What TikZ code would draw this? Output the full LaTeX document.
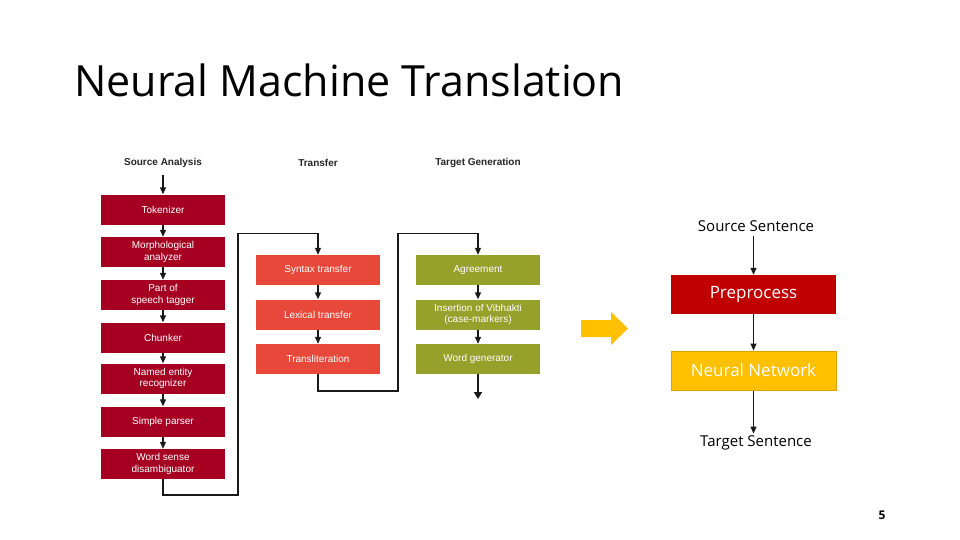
\documentclass[tikz,border=0pt]{standalone}
\usepackage{fontspec}
\setmainfont{Open Sans}
\newfontfamily\diafont{Liberation Sans}
\usetikzlibrary{arrows.meta}
\definecolor{srcred}{HTML}{A50021}
\definecolor{trred}{HTML}{E8483A}
\definecolor{olive}{HTML}{95A12B}
\definecolor{prered}{HTML}{C00000}
\definecolor{nnyellow}{HTML}{FFC000}
\definecolor{nnborder}{HTML}{E0A000}
\begin{document}
\begin{tikzpicture}[x=1pt,y=-1pt,
  arr/.style={draw=black!90, line width=1.2pt, -{Triangle[width=6pt,length=7pt]}},
  box/.style={minimum width=124pt, minimum height=30pt, inner sep=1pt, text=white, align=center, font=\diafont\fontsize{10}{11.5}\selectfont},
  srcbox/.style={box, fill=srcred},
  trbox/.style={box, fill=trred},
  tgbox/.style={box, fill=olive},
  head/.style={font=\diafont\bfseries\fontsize{10}{11}\selectfont, text=black!85},
  sent/.style={font=\fontsize{15}{17}\selectfont, inner sep=1pt},
  bigbox/.style={minimum width=165pt, minimum height=39pt, inner sep=1pt, text=white, font=\fontsize{17}{19}\selectfont}
]
\useasboundingbox (0,0) rectangle (960,540);
\fill[white] (0,0) rectangle (960,540);

% title
\node[anchor=base west, inner sep=0pt, font=\fontsize{43}{48}\selectfont] (title) at (74,97) {Neural Machine Translation};

% headings
\node[head] (sa) at (163,163) {Source Analysis};
\node[head] (tf) at (318,163) {Transfer};
\node[head] (tg) at (478,163) {Target Generation};

% source analysis column
\node[srcbox] (tok) at (163,209.5) {Tokenizer};
\node[srcbox] (mor) at (163,252) {Morphological\\analyzer};
\node[srcbox] (pos) at (163,295) {Part of\\speech tagger};
\node[srcbox] (chu) at (163,337.5) {Chunker};
\node[srcbox] (ner) at (163,378.5) {Named entity\\recognizer};
\node[srcbox] (sp) at (163,421.5) {Simple parser};
\node[srcbox] (wsd) at (163,464) {Word sense\\disambiguator};

% transfer column
\node[trbox] (syn) at (318,270) {Syntax transfer};
\node[trbox] (lex) at (318,314.5) {Lexical transfer};
\node[trbox] (trl) at (318,359) {Transliteration};

% target generation column
\node[tgbox] (agr) at (478,270) {Agreement};
\node[tgbox] (ins) at (478,314.5) {Insertion of Vibhakti\\(case-markers)};
\node[tgbox] (wg) at (478,359) {Word generator};

% connectors
\draw[arr] ([yshift=-4pt]sa.south) -- (tok.north);
\draw[arr] (tok) -- (mor);
\draw[arr] (mor) -- (pos);
\draw[arr] (pos) -- (chu);
\draw[arr] (chu) -- (ner);
\draw[arr] (ner) -- (sp);
\draw[arr] (sp) -- (wsd);
\coordinate (c1) at (238,495);
\coordinate (c2) at (238,233.5);
\draw[arr] (wsd.south) |- (c1) -- (c2) -| (syn.north);
\draw[arr] (syn) -- (lex);
\draw[arr] (lex) -- (trl);
\coordinate (c3) at (398,391);
\coordinate (c4) at (398,233.5);
\draw[arr] (trl.south) |- (c3) -- (c4) -| (agr.north);
\draw[arr] (agr) -- (ins);
\draw[arr] (ins) -- (wg);
\coordinate (wgend) at (478,399);
\draw[arr, line width=1.8pt, -{Triangle[width=8pt,length=7pt]}] (wg.south) -- (wgend);

% big arrow
\fill[nnyellow] (581,320) -- (611,320) -- (611,312) -- (628,328.5) -- (611,345) -- (611,337) -- (581,337) -- cycle;

% right diagram
\node[sent] (src) at (756,226) {Source Sentence};
\node[bigbox, fill=prered] (pre) at (753.5,294.5) {Preprocess};
\node[bigbox, fill=nnyellow, draw=nnborder, line width=1pt] (nn) at (753.5,370.5) {Neural Network};
\node[sent] (tgt) at (756,443) {Target Sentence};
\coordinate (srcs) at ([yshift=-3pt]src.south -| pre.north);
\draw[arr] (srcs) -- (pre.north);
\draw[arr] (pre) -- (nn);
\coordinate (tgtn) at ([yshift=1pt]tgt.north -| nn.south);
\draw[arr] (nn.south) -- (tgtn);

% page number
\node[font=\bfseries\fontsize{12}{14}\selectfont] (pg) at (882,515) {5};
\end{tikzpicture}
\end{document}
